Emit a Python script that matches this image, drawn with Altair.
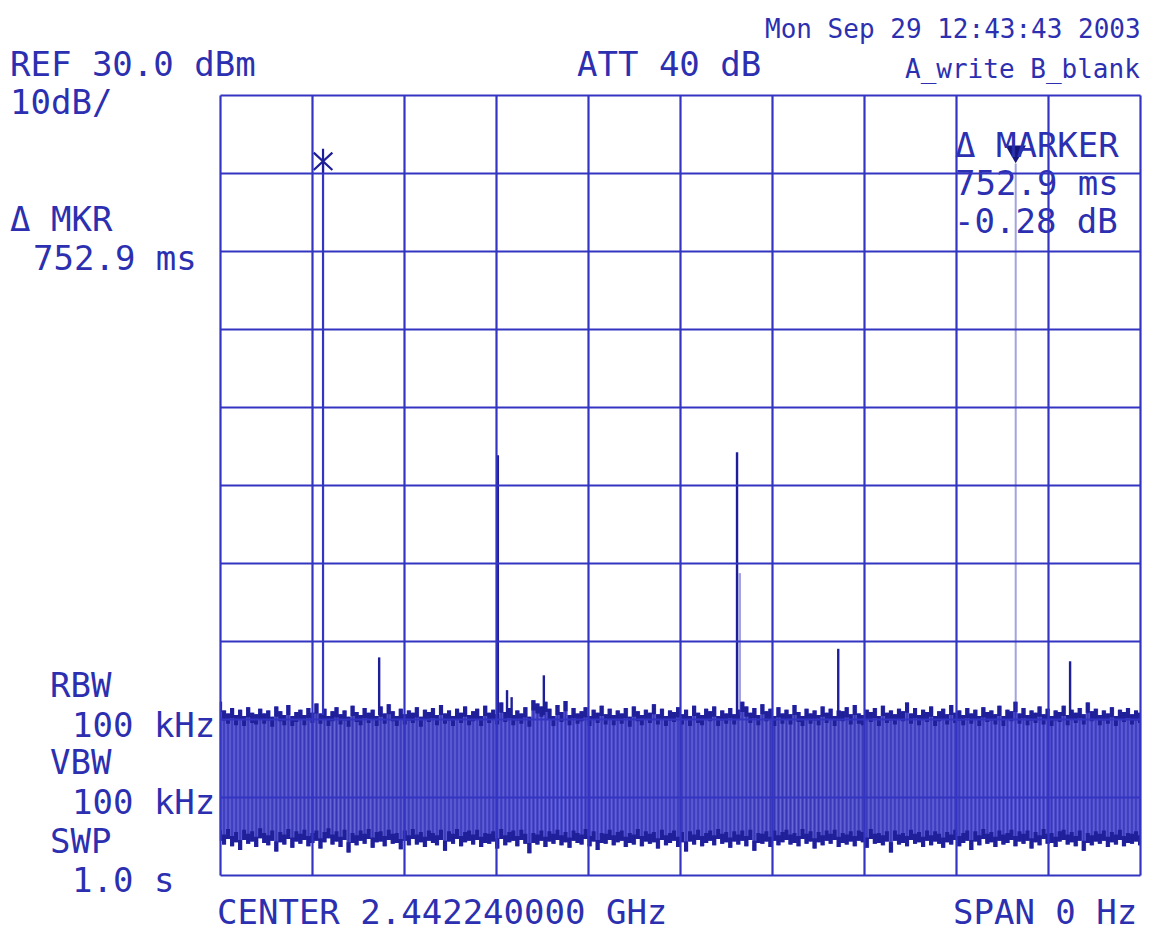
import altair as alt
import pandas as pd
import numpy as np

# ---------------- data ----------------
REF_LEVEL = 30.0          # dBm, top of screen
DB_PER_DIV = 10
N_DIV = 10
SWEEP = 1.0               # s, zero span sweep time

# noise band envelope (dBm), sampled evenly across the sweep
noise_hi = [
    -47.8, -48.9, -49.3, -48.6, -49.5, -48.8, -49.6, -48.5, -49.2, -49.4,
    -48.7, -49.3, -48.9, -49.7, -48.4, -49.0, -49.5, -48.2, -49.6, -49.1,
    -48.8, -49.5, -48.6, -49.2, -48.0, -49.3, -48.7, -49.6, -49.0, -48.5,
    -49.4, -48.9, -49.7, -48.3, -49.1, -49.5, -48.6, -49.2, -48.8, -49.6,
    -48.4, -49.3, -48.1, -49.0, -49.6, -48.7, -49.4, -48.9, -49.2, -48.5,
    -49.7, -48.8, -49.1, -48.6, -49.5, -48.2, -49.3, -48.9, -49.6, -48.7,
    -49.2, -48.4, -49.5, -49.0, -48.7, -49.6, -48.3, -49.2, -48.8, -49.4,
    -47.9, -49.1, -48.6, -49.5, -48.9, -49.3, -48.5, -49.7, -47.6, -48.0,
    -48.4, -47.8, -48.7, -49.6, -48.2, -49.1, -47.7, -49.5, -48.6, -49.3,
    -49.0, -48.5, -49.6, -48.8, -49.2, -48.3, -49.4, -48.7, -49.5, -48.9,
    -49.3, -48.6, -49.7, -48.4, -49.0, -49.5, -48.8, -49.2, -48.1, -49.4,
    -48.7, -49.6, -48.9, -49.1, -48.5, -49.4, -48.8, -49.6, -48.3, -49.2,
    -49.5, -48.7, -49.0, -48.4, -49.6, -48.9, -49.3, -48.6, -49.4, -48.8,
    -47.8, -48.4, -49.2, -48.6, -49.5, -48.1, -49.0, -48.7, -49.6, -48.5,
    -49.3, -48.8, -49.4, -48.2, -49.1, -49.6, -48.7, -49.3, -48.9, -49.5,
    -48.4, -49.2, -48.7, -49.6, -48.9, -49.0, -48.5, -49.4, -48.2, -49.3,
    -49.5, -48.8, -49.1, -48.6, -49.6, -48.3, -49.2, -48.9, -49.4, -48.7,
    -49.0, -47.9, -49.3, -48.6, -49.5, -48.8, -49.1, -48.4, -49.6, -49.0,
    -48.7, -49.4, -48.2, -49.2, -48.9, -49.5, -48.6, -49.3, -48.8, -49.6,
    -48.5, -49.1, -48.9, -49.4, -48.3, -49.6, -48.8, -49.0, -47.8, -49.3,
    -48.6, -49.5, -48.9, -49.2, -48.4, -49.4, -48.7, -49.6, -48.9, -49.1,
    -48.3, -49.5, -48.8, -49.2, -48.6, -49.4, -47.9, -49.0, -48.7, -49.5,
    -48.9, -49.3, -48.5, -49.6, -48.8, -49.1, -48.6, -49.4, -48.9, -49.2,
]
noise_lo = [
    -65.6, -66.1, -65.4, -66.3, -65.8, -66.8, -65.5, -66.0, -65.7, -66.4,
    -65.3, -65.9, -66.2, -65.6, -67.0, -65.8, -66.1, -65.4, -66.5, -65.7,
    -66.0, -65.5, -66.3, -65.9, -65.6, -66.6, -65.8, -65.3, -66.1, -65.7,
    -66.4, -65.5, -67.1, -65.9, -66.2, -65.6, -66.0, -65.4, -66.5, -65.8,
    -65.7, -66.3, -65.5, -66.0, -65.9, -66.7, -65.6, -66.2, -65.4, -66.1,
    -65.8, -66.4, -65.6, -65.9, -66.2, -65.5, -66.9, -65.7, -66.0, -65.4,
    -66.3, -65.8, -65.6, -66.1, -65.5, -66.4, -65.9, -66.0, -65.7, -66.6,
    -65.4, -66.2, -65.8, -65.6, -66.3, -65.5, -66.0, -67.2, -65.9, -66.1,
    -65.6, -66.4, -65.7, -66.0, -65.5, -66.2, -65.8, -66.5, -65.6, -65.9,
    -66.1, -65.4, -66.3, -65.7, -66.8, -65.9, -66.0, -65.5, -66.2, -65.8,
    -65.6, -66.4, -65.9, -66.1, -65.4, -66.3, -65.7, -66.0, -65.8, -66.6,
    -65.5, -66.2, -65.9, -65.6, -66.4, -65.8, -67.0, -65.7, -66.1, -65.5,
    -66.3, -65.9, -65.6, -66.2, -65.4, -66.0, -65.8, -66.5, -65.7, -66.1,
    -65.6, -66.3, -65.5, -66.9, -65.9, -66.0, -65.7, -66.4, -65.6, -66.2,
    -65.8, -65.5, -66.1, -65.9, -66.3, -65.4, -66.0, -65.7, -66.6, -65.8,
    -66.2, -65.6, -66.0, -65.5, -66.4, -65.9, -66.1, -65.7, -66.3, -65.6,
    -65.8, -66.5, -65.4, -66.0, -65.9, -66.2, -65.7, -67.1, -65.6, -66.1,
    -65.9, -66.3, -65.5, -66.0, -65.8, -66.4, -65.6, -66.2, -65.7, -66.0,
    -66.5, -65.8, -66.1, -65.5, -66.3, -65.9, -65.6, -66.8, -65.7, -66.2,
    -65.4, -66.0, -65.8, -66.4, -65.6, -66.1, -65.9, -65.5, -66.3, -65.7,
    -66.0, -65.6, -66.6, -65.8, -66.2, -65.4, -66.0, -65.9, -66.4, -65.7,
    -65.5, -66.1, -65.8, -66.3, -65.6, -66.9, -65.9, -66.2, -65.7, -66.0,
    -65.6, -66.4, -65.8, -66.1, -65.5, -66.3, -65.9, -66.0, -65.7, -66.2,
]

# discrete bursts above the noise (time in s, level in dBm)
spike_t = [0.173, 0.302, 0.312, 0.317, 0.352, 0.562, 0.672, 0.924]
spike_db = [-42.1, -16.2, -46.3, -47.2, -44.4, -15.8, -41.0, -42.6]
faint_t = [0.565]
faint_db = [-31.3]

# markers
ref_mkr_t = 0.112
ref_mkr_db = 21.5
delta_ms = 752.9
delta_db = -0.28

# texts
txt_date = "Mon Sep 29 12:43:43 2003"
txt_mode = "A_write B_blank"
txt_ref = "REF 30.0 dBm"
txt_scale = "10dB/"
txt_att = "ATT 40 dB"
txt_dmkr = "\u0394 MKR"
txt_dmkr_val = f"{delta_ms} ms"
txt_dmarker = "\u0394 MARKER"
txt_dmarker_t = f"{delta_ms} ms"
txt_dmarker_db = f"{delta_db:.2f} dB"
txt_rbw = "RBW"
txt_rbw_v = "100 kHz"
txt_vbw = "VBW"
txt_vbw_v = "100 kHz"
txt_swp = "SWP"
txt_swp_v = "1.0 s"
txt_center = "CENTER 2.442240000 GHz"
txt_span = "SPAN 0 Hz"

# ---------------- chart ----------------
BLUE = "#3434c2"
DARK = "#1e1e98"
TEXT = "#2c30b0"
FONT = "DejaVu Sans Mono"

bottom = REF_LEVEL - DB_PER_DIV * N_DIV
n = len(noise_hi)
step = SWEEP / (n - 1)
noise = pd.DataFrame({
    "t": np.linspace(0, SWEEP, n),
    "hi": noise_hi,
    "lo": noise_lo,
})
spikes = pd.DataFrame({"t": spike_t, "db": spike_db})
faint = pd.DataFrame({"t": faint_t, "db": faint_db})
ref_mkr = pd.DataFrame({"t": [ref_mkr_t], "db": [ref_mkr_db]})
dlt_mkr = pd.DataFrame({"t": [ref_mkr_t + delta_ms / 1000.0],
                        "db": [ref_mkr_db + delta_db]})

xs = alt.Scale(domain=[0, SWEEP])
ys = alt.Scale(domain=[bottom, REF_LEVEL])
xvals = [round(i * SWEEP / N_DIV, 3) for i in range(N_DIV + 1)]
yvals = [bottom + i * DB_PER_DIV for i in range(N_DIV + 1)]

axis_common = dict(grid=True, gridColor=BLUE, gridWidth=2.2, gridOpacity=1,
                   labels=False, ticks=False, domain=False, title=None,
                   zindex=1)
X = alt.X("t:Q", scale=xs, axis=alt.Axis(values=xvals, **axis_common))
Y = alt.Y("hi:Q", scale=ys, axis=alt.Axis(values=yvals, **axis_common))

base = alt.Chart(noise)

band = base.mark_area(
    interpolate="step", color="#4040c8", opacity=0.95
).encode(x=X, y=Y, y2="lo:Q")

# dark rims along the top and bottom of the noise band
top_rim = base.transform_calculate(rim="datum.hi - 1.3").mark_area(
    interpolate="step", color=DARK, opacity=0.95
).encode(x="t:Q", y="hi:Q", y2="rim:Q")
bot_rim = base.transform_calculate(rim="datum.lo + 1.3").mark_area(
    interpolate="step", color=DARK, opacity=0.95
).encode(x="t:Q", y="lo:Q", y2="rim:Q")

dark_strokes = base.mark_rule(color=DARK, strokeWidth=1.0, opacity=0.45).encode(
    x="t:Q", y="hi:Q", y2="lo:Q")
light_strokes = base.transform_calculate(tm=f"datum.t + {step / 2}").transform_filter(
    f"datum.tm <= {SWEEP}"
).mark_rule(color="#8c8ce6", strokeWidth=0.9, opacity=0.5).encode(
    x="tm:Q", y=alt.Y("hi:Q"), y2="lo:Q")

spike_rules = alt.Chart(spikes).mark_rule(color=DARK, strokeWidth=2.4).encode(
    x="t:Q", y="db:Q", y2=alt.datum(-49.5))
faint_rules = alt.Chart(faint).mark_rule(color=BLUE, strokeWidth=2.4, opacity=0.45).encode(
    x="t:Q", y="db:Q", y2=alt.datum(-49.5))

ref_line = alt.Chart(ref_mkr).mark_rule(color=BLUE, strokeWidth=2.2).encode(
    x="t:Q", y="db:Q", y2=alt.datum(-49.5))
ref_star = alt.Chart(ref_mkr).mark_point(
    shape="M-0.75,-0.7L0.75,0.7M0.75,-0.7L-0.75,0.7M0,-1L0,1",
    size=620, filled=False, color=DARK, strokeWidth=2.2, opacity=1
).encode(x="t:Q", y="db:Q")

dlt_line = alt.Chart(dlt_mkr).mark_rule(color=BLUE, strokeWidth=2, opacity=0.45).encode(
    x="t:Q", y="db:Q", y2=alt.datum(-49.5))
dlt_tri = alt.Chart(dlt_mkr).mark_point(
    shape="triangle-down", size=420, filled=True, color="#15157a", opacity=1, yOffset=-9
).encode(x="t:Q", y="db:Q")


def label(text, x, y, size=34, align="left"):
    return alt.Chart(pd.DataFrame({"s": [text]})).mark_text(
        font=FONT, fontSize=size, color=TEXT, align=align, baseline="alphabetic"
    ).encode(x=alt.value(x), y=alt.value(y), text="s:N")


texts = [
    label(txt_date, 545, -57, size=26),
    label(txt_mode, 685, -17, size=26),
    label(txt_ref, -210, -19),
    label(txt_scale, -210, 19),
    label(txt_att, 357, -19),
    label(txt_dmkr, -210, 136),
    label(txt_dmkr_val, -187, 175),
    label(txt_dmarker, 735, 62),
    label(txt_dmarker_t, 735, 100),
    label(txt_dmarker_db, 734, 138),
    label(txt_rbw, -170, 602),
    label(txt_rbw_v, -148, 642),
    label(txt_vbw, -170, 679),
    label(txt_vbw_v, -148, 719),
    label(txt_swp, -170, 758),
    label(txt_swp_v, -148, 797),
    label(txt_center, -3, 829),
    label(txt_span, 733, 829),
]

chart = alt.layer(
    band, dark_strokes, light_strokes, top_rim, bot_rim, spike_rules, faint_rules,
    ref_line, ref_star, dlt_line, dlt_tri, *texts
).properties(
    width=920, height=780,
    autosize=alt.AutoSizeParams(type="none"),
    padding={"left": 220, "top": 95, "right": 12, "bottom": 68},
    background="white",
).configure_view(strokeWidth=0)

chart.save("out.html", embed_options={"renderer": "svg", "actions": False})
